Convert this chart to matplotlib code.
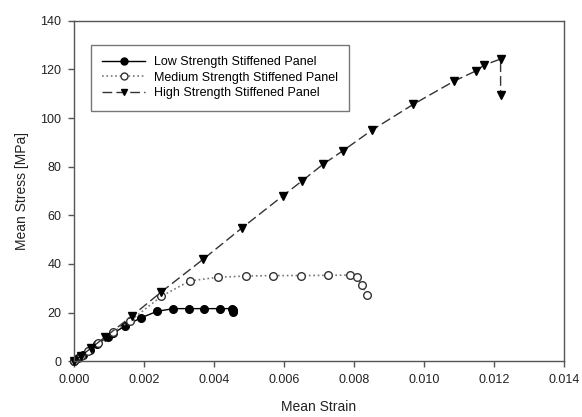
import matplotlib
matplotlib.use('Agg')
import matplotlib.pyplot as plt

plt.rcParams['font.family'] = ['Liberation Sans', 'DejaVu Sans']

# Low strength stiffened panel
strain_low = [0.0, 0.00012, 0.00027, 0.00046, 0.00065, 0.00098, 0.00112, 0.00146,
              0.00193, 0.00238, 0.00284, 0.0033, 0.00372, 0.00417, 0.00453, 0.00455, 0.00455]
stress_low = [0.0, 1.1, 2.5, 4.5, 6.9, 10.0, 11.4, 14.5,
              17.9, 20.5, 21.6, 21.6, 21.6, 21.6, 21.6, 21.0, 20.4]

# Medium strength stiffened panel
strain_med = [0.0, 0.0002, 0.0004, 0.0007, 0.00112, 0.0016, 0.0025, 0.00331, 0.00412,
              0.00491, 0.00569, 0.00648, 0.00727, 0.0079, 0.00808, 0.00822, 0.00838]
stress_med = [0.0, 2.0, 4.2, 7.3, 12.0, 16.5, 26.7, 33.0, 34.5,
              35.0, 35.2, 35.2, 35.3, 35.4, 34.6, 31.2, 27.1]

# High strength stiffened panel
strain_high = [0.0, 0.0002, 0.0005, 0.0009, 0.00165, 0.0025, 0.0037, 0.00481, 0.00596,
               0.00653, 0.00712, 0.00768, 0.00852, 0.00969, 0.01086, 0.0115, 0.01172,
               0.01219, 0.01219]
stress_high = [0.0, 2.1, 5.5, 10.0, 18.5, 28.5, 42.0, 54.9, 67.9,
               74.3, 81.0, 86.5, 95.1, 105.6, 115.2, 119.5, 121.8, 124.3, 109.6]

fig = plt.figure(figsize=(5.82, 4.17), dpi=100)
ax = fig.add_axes([0.127, 0.134, 0.842, 0.816])

ax.plot(strain_low, stress_low, color='black', linestyle='-', linewidth=1.0,
        marker='o', markersize=5.5, markerfacecolor='black', markeredgecolor='black',
        clip_on=False, label='Low Strength Stiffened Panel')
ax.plot(strain_med, stress_med, color='#777777', linestyle=':', linewidth=1.2,
        marker='o', markersize=5.5, markerfacecolor='white', markeredgecolor='#333333',
        clip_on=False, label='Medium Strength Stiffened Panel')
ax.plot(strain_high, stress_high, color='#333333', linestyle=(0, (7, 3)), linewidth=1.0,
        marker='v', markersize=6, markerfacecolor='black', markeredgecolor='black',
        clip_on=False, label='High Strength Stiffened Panel')

ax.set_xlim(0, 0.014)
ax.set_ylim(0, 140)
ax.set_xticks([0.000, 0.002, 0.004, 0.006, 0.008, 0.010, 0.012, 0.014])
ax.set_xticklabels(['0.000', '0.002', '0.004', '0.006', '0.008', '0.010', '0.012', '0.014'])
ax.set_yticks(range(0, 141, 20))

for s in ax.spines.values():
    s.set_color('#555555')
    s.set_linewidth(1.0)
ax.tick_params(direction='out', length=4, width=1, color='#555555',
               labelsize=9, labelcolor='#222222', pad=5)

ax.set_xlabel('Mean Strain', fontsize=10, color='#222222', labelpad=10)
ax.set_ylabel('Mean Stress [MPa]', fontsize=10, color='#222222', labelpad=8)

leg = ax.legend(loc='upper left', bbox_to_anchor=(0.035, 0.93), fontsize=9,
                frameon=True, fancybox=False, handlelength=3.4, borderpad=0.9,
                labelspacing=0.3, handletextpad=0.7, borderaxespad=0)
leg.get_frame().set_edgecolor('#555555')
leg.get_frame().set_linewidth(1.0)
for h in leg.legend_handles:
    h.set_markersize(5)

fig.savefig('out.png', dpi=100)
